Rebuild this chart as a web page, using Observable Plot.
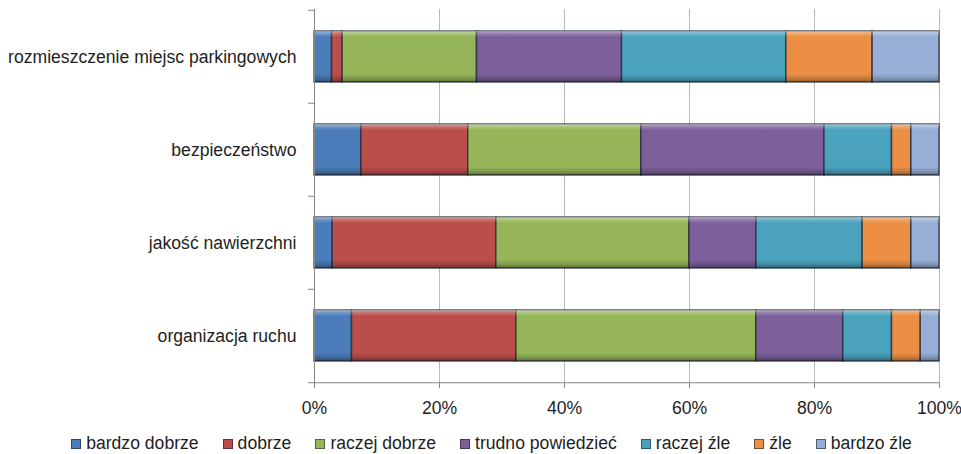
<!DOCTYPE html>
<html lang="pl">
<head>
<meta charset="utf-8">
<script src="https://cdn.jsdelivr.net/npm/d3@7"></script>
<script src="https://cdn.jsdelivr.net/npm/@observablehq/plot@0.6"></script>
<style>
  html, body { margin: 0; padding: 0; background: #fff; }
  #chart { width: 961px; height: 454px; overflow: hidden; font-family: "Liberation Sans", Arial, sans-serif; color: #1e1e1e; }
  #legend { display: flex; justify-content: center; align-items: flex-end; gap: 24px; font-size: 17.6px; line-height: 20px; padding-top: 5px; padding-left: 22px; }
  #legend .item { display: flex; align-items: baseline; white-space: nowrap; }
  #legend .sw { width: 10px; height: 10px; margin-right: 5px; box-sizing: border-box; border: 1px solid rgba(20,30,45,0.55); }
</style>
</head>
<body>
<div id="chart"></div>
<script>
// Ocena elementów infrastruktury – udział odpowiedzi (%)
const categories = [
  "rozmieszczenie miejsc parkingowych",
  "bezpieczeństwo",
  "jakość nawierzchni",
  "organizacja ruchu"
];
const series = [
  "bardzo dobrze", "dobrze", "raczej dobrze", "trudno powiedzieć",
  "raczej źle", "źle", "bardzo źle"
];
const colors = ["#4b7dba", "#bb4e4a", "#96b558", "#7c5f9b", "#4aa2bd", "#ec8f45", "#97afd6"];

// udziały odpowiedzi w kolejności serii
const rozmieszczenie = [2.8, 1.7, 21.5, 23.2, 26.3, 13.8, 10.7];
const bezpieczenstwo = [7.5, 17.1, 27.7, 29.3, 10.8, 3.1, 4.5];
const jakosc = [2.9, 26.2, 30.9, 10.7, 17.0, 7.8, 4.5];
const organizacja = [6.0, 26.3, 38.4, 13.9, 7.8, 4.6, 3.0];

const xTicks = [0, 20, 40, 60, 80, 100];

const byCategory = [rozmieszczenie, bezpieczenstwo, jakosc, organizacja];
const rows = categories.flatMap((category, i) =>
  series.map((s, j) => ({category, series: s, value: byCategory[i][j]}))
);

const width = 961, height = 428;
const marginTop = 9, marginBottom = 45, marginLeft = 314, marginRight = 22;
const step = (height - marginTop - marginBottom) / categories.length;
const axisColor = "#878787";

// gradient dodający efekt wypukłości segmentów
const bevelDefs = () => {
  const defs = d3.create("svg:defs");
  const g = defs.append("linearGradient").attr("id", "bevel").attr("x1", 0).attr("y1", 0).attr("x2", 0).attr("y2", 1);
  [[0, "#fff", 0.5], [0.05, "#fff", 0.22], [0.12, "#fff", 0], [0.84, "#000", 0], [0.93, "#000", 0.16], [1, "#000", 0.38]]
    .forEach(([o, c, a]) => g.append("stop").attr("offset", o).attr("stop-color", c).attr("stop-opacity", a));
  return defs.node();
};

const chart = Plot.plot({
  width, height, marginTop, marginBottom, marginLeft, marginRight,
  style: {fontFamily: "'Liberation Sans', Arial, sans-serif", fontSize: "17.6px", color: "#1e1e1e", background: "#fff"},
  x: {domain: [0, 100]},
  y: {domain: categories, paddingInner: 0.455, paddingOuter: 0.2275},
  color: {domain: series, range: colors},
  marks: [
    bevelDefs,
    Plot.ruleX(xTicks.filter((t) => t > 0), {stroke: "#b9b9b9", strokeWidth: 1}),
    Plot.barX(rows, Plot.stackX({x: "value", y: "category", fill: "series", stroke: "#26303c", strokeOpacity: 0.8, strokeWidth: 1.5})),
    Plot.barX(rows, Plot.stackX({x: "value", y: "category", fill: "url(#bevel)"})),
    Plot.ruleX([0], {stroke: axisColor}),
    Plot.ruleY(categories, {y: (d) => d, x1: 0, x2: 0, insetLeft: -6, dy: -step / 2, stroke: axisColor}),
    Plot.ruleY([categories[categories.length - 1]], {y: (d) => d, x1: 0, x2: 100, insetLeft: -6, dy: step / 2, stroke: axisColor}),
    Plot.axisX({ticks: xTicks, tickSize: 5, tickPadding: 13, tickFormat: (d) => d + "%", stroke: axisColor, label: null}),
    Plot.axisY({tickSize: 0, tickPadding: 18, label: null})
  ]
});

const root = document.getElementById("chart");
root.appendChild(chart);

const legend = d3.select(root).append("div").attr("id", "legend");
const items = legend.selectAll(".item").data(series).join("div").attr("class", "item");
items.append("span").attr("class", "sw").style("background", (d, i) => colors[i]);
items.append("span").text((d) => d);
</script>
</body>
</html>
